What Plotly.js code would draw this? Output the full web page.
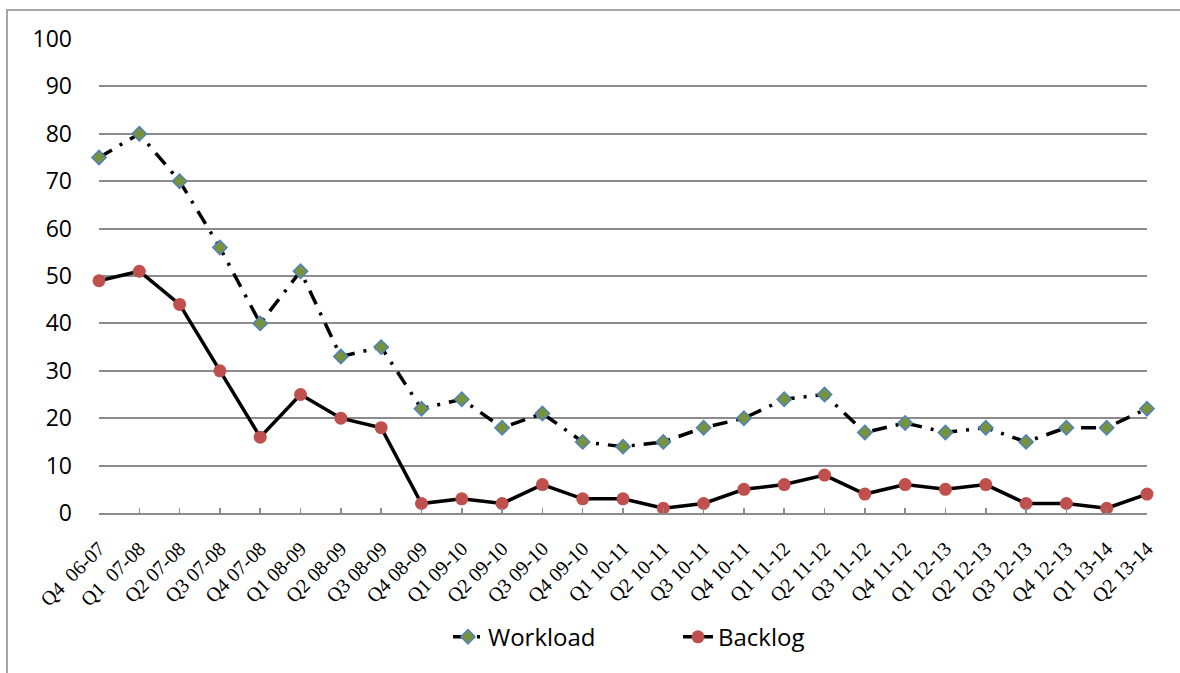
<!DOCTYPE html>
<html>
<head>
<meta charset="utf-8">
<script src="https://cdn.plot.ly/plotly-3.0.1.min.js"></script>
<style>
  html, body { margin: 0; padding: 0; background: #fff; }
  #wrap { position: relative; width: 1180px; height: 673px; }
  #chart { position: absolute; left: 0; top: 0; width: 1180px; height: 673px; }
  #frame { position: absolute; left: 6px; top: 9px; width: 1180px; height: 700px;
           border-left: 2px solid #a6a6a6; border-top: 2px solid #a6a6a6; pointer-events: none; }
</style>
</head>
<body>
<div id="wrap">
  <div id="chart"></div>
  <div id="frame"></div>
</div>
<script>
const categories = [
  "Q4  06-07", "Q1  07-08", "Q2 07-08", "Q3 07-08", "Q4 07-08", "Q1 08-09", "Q2 08-09",
  "Q3 08-09", "Q4 08-09", "Q1 09-10", "Q2 09-10", "Q3 09-10", "Q4 09-10", "Q1 10-11",
  "Q2 10-11", "Q3 10-11", "Q4 10-11", "Q1 11-12", "Q2 11-12", "Q3 11-12", "Q4 11-12",
  "Q1 12-13", "Q2 12-13", "Q3 12-13", "Q4 12-13", "Q1 13-14", "Q2 13-14"
];
const workload = [75, 80, 70, 56, 40, 51, 33, 35, 22, 24, 18, 21, 15, 14, 15, 18, 20, 24, 25, 17, 19, 17, 18, 15, 18, 18, 22];
const backlog  = [49, 51, 44, 30, 16, 25, 20, 18, 2, 3, 2, 6, 3, 3, 1, 2, 5, 6, 8, 4, 6, 5, 6, 2, 2, 1, 4];
const yTicks = [0, 10, 20, 30, 40, 50, 60, 70, 80, 90, 100];

const idx = categories.map((c, i) => i);

const traces = [
  {
    x: idx, y: workload, name: "Workload", type: "scatter", mode: "lines+markers",
    cliponaxis: false,
    line: { color: "#000000", width: 3.5, dash: "15px,9px,3px,9px" },
    marker: { symbol: "diamond", size: 11, color: "#77933C", line: { color: "#4F81BD", width: 1.5 } }
  },
  {
    x: idx, y: backlog, name: "Backlog", type: "scatter", mode: "lines+markers",
    cliponaxis: false,
    line: { color: "#000000", width: 3.5 },
    marker: { symbol: "circle", size: 13, color: "#C0504D" }
  }
];

const layout = {
  width: 1180, height: 673,
  margin: { l: 99, r: 33, t: 39, b: 160 },
  paper_bgcolor: "#ffffff", plot_bgcolor: "#ffffff",
  showlegend: true,
  legend: {
    orientation: "h", x: 0.333, xanchor: "left", y: -0.262, yanchor: "middle",
    font: { family: "Open Sans, sans-serif", size: 24, color: "#000" },
    entrywidth: 185, entrywidthmode: "pixels"
  },
  xaxis: {
    range: [0, categories.length - 1],
    tickmode: "array", tickvals: idx, ticktext: categories,
    tickangle: -45,
    tickfont: { family: "Liberation Serif, serif", size: 20, color: "#000" },
    showgrid: false, zeroline: false,
    showline: true, linecolor: "#8c8c8c", linewidth: 2,
    ticks: "inside", ticklen: 5, tickcolor: "#8c8c8c", tickwidth: 1.5,
    ticklabelstandoff: 14,
    fixedrange: true
  },
  yaxis: {
    range: [0, 100],
    tickmode: "array", tickvals: yTicks, ticktext: yTicks.map(String),
    tickfont: { family: "Open Sans, sans-serif", size: 23, color: "#000" },
    showgrid: true, gridcolor: "#8c8c8c", gridwidth: 2,
    zeroline: false, showline: false, ticks: "", ticklabelstandoff: 26,
    fixedrange: true
  }
};

Plotly.newPlot("chart", traces, layout, { displayModeBar: false, staticPlot: true });
</script>
</body>
</html>
